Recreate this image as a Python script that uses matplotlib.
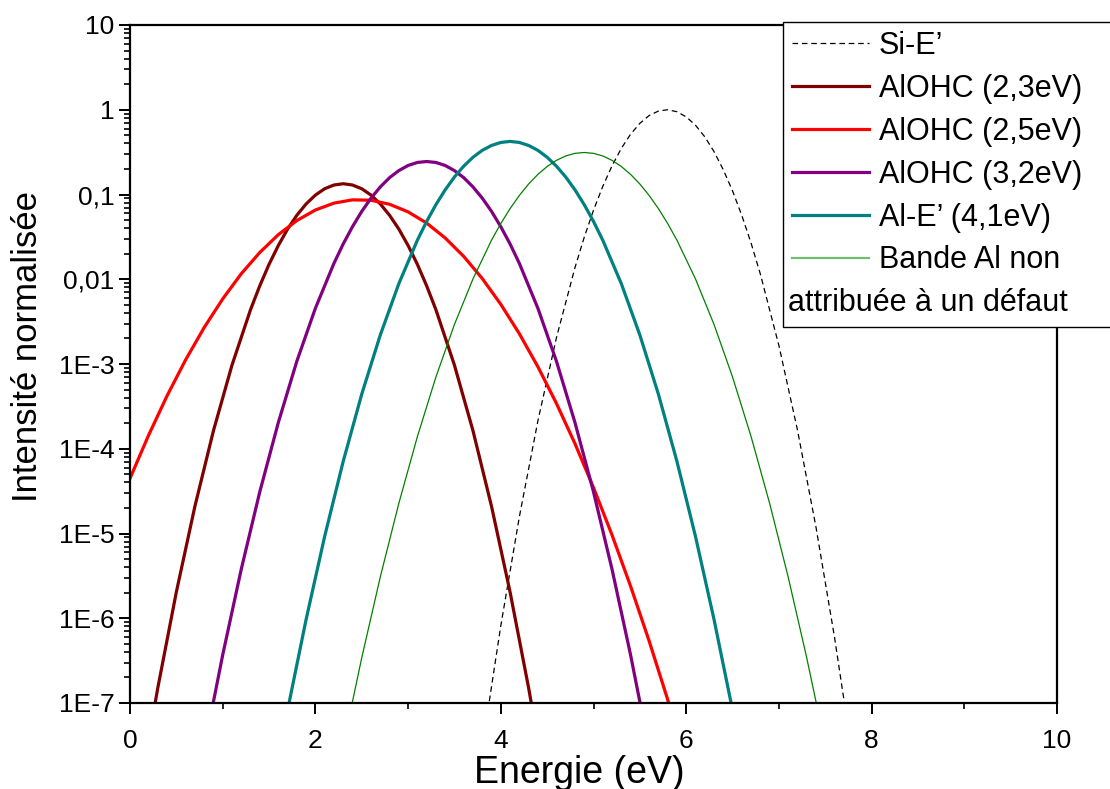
import matplotlib
matplotlib.use("Agg")
import matplotlib.pyplot as plt
from matplotlib.lines import Line2D
from matplotlib.ticker import FixedLocator, FixedFormatter, LogLocator, NullFormatter, MultipleLocator

plt.rcParams['font.family'] = ['Liberation Sans', 'DejaVu Sans']

# ---- data ----
x_si = [3.8, 4.0, 4.2, 4.4, 4.6, 4.8, 4.9, 5.0, 5.1, 5.2, 5.3, 5.4, 5.5, 5.6, 5.7, 5.8, 5.9, 6.0, 6.1, 6.2,
        6.3, 6.4, 6.5, 6.6, 6.7, 6.8, 7.0, 7.2, 7.4, 7.6, 7.8]
y_si = [2.99e-8, 8.17e-7, 1.57e-5, 2.13e-4, 2.04e-3, 1.37e-2, 3.13e-2, 6.52e-2, 0.1245, 0.218, 0.350, 0.514,
        0.692, 0.854, 0.965, 1.000, 0.948, 0.824, 0.657, 0.480, 0.321, 0.196, 0.1102, 5.66e-2, 2.67e-2,
        1.15e-2, 1.65e-3, 1.67e-4, 1.19e-5, 5.96e-7, 2.10e-8]

x_23 = [0.1, 0.3, 0.5, 0.7, 0.9, 1.1, 1.3, 1.4, 1.5, 1.6, 1.7, 1.8, 1.9, 2.0, 2.1, 2.2, 2.3, 2.4, 2.5, 2.6,
        2.7, 2.8, 2.9, 3.0, 3.1, 3.2, 3.3, 3.5, 3.7, 3.9, 4.1, 4.3, 4.5]
y_23 = [8.51e-9, 1.51e-7, 2.04e-6, 2.09e-5, 1.63e-4, 9.68e-4, 4.37e-3, 8.37e-3, 1.50e-2, 2.50e-2, 3.91e-2,
        5.69e-2, 7.74e-2, 9.84e-2, 0.117, 0.1294, 0.134, 0.1294, 0.117, 9.84e-2, 7.74e-2, 5.69e-2, 3.91e-2,
        2.50e-2, 1.50e-2, 8.37e-3, 4.37e-3, 9.68e-4, 1.63e-4, 2.09e-5, 2.04e-6, 1.51e-7, 8.51e-9]

x_25 = [0.0, 0.2, 0.4, 0.6, 0.8, 1.0, 1.2, 1.4, 1.6, 1.8, 2.0, 2.2, 2.4, 2.6, 2.8, 3.0, 3.2, 3.4, 3.6, 3.8,
        4.0, 4.2, 4.4, 4.6, 4.8, 5.0, 5.2, 5.4, 5.6, 5.8, 6.0]
y_25 = [4.47e-5, 1.44e-4, 4.22e-4, 1.12e-3, 2.69e-3, 5.86e-3, 1.16e-2, 2.07e-2, 3.36e-2, 4.93e-2, 6.56e-2,
        7.91e-2, 8.65e-2, 8.55e-2, 7.67e-2, 6.24e-2, 4.60e-2, 3.07e-2, 1.86e-2, 1.02e-2, 5.06e-3, 2.28e-3,
        9.29e-4, 3.43e-4, 1.15e-4, 3.48e-5, 9.59e-6, 2.39e-6, 5.40e-7, 1.10e-7, 2.05e-8]

x_32 = [0.8, 1.0, 1.2, 1.4, 1.6, 1.8, 2.0, 2.2, 2.3, 2.4, 2.5, 2.6, 2.7, 2.8, 2.9, 3.0, 3.1, 3.2, 3.3, 3.4,
        3.5, 3.6, 3.7, 3.8, 3.9, 4.0, 4.1, 4.2, 4.4, 4.6, 4.8, 5.0, 5.2, 5.4, 5.6]
y_32 = [2.89e-8, 3.69e-7, 3.78e-6, 3.10e-5, 2.04e-4, 1.08e-3, 4.55e-3, 1.54e-2, 2.61e-2, 4.17e-2, 6.32e-2,
        9.06e-2, 0.1228, 0.158, 0.1914, 0.220, 0.2388, 0.245, 0.2388, 0.220, 0.1914, 0.158, 0.1228, 9.06e-2,
        6.32e-2, 4.17e-2, 2.61e-2, 1.54e-2, 4.55e-3, 1.08e-3, 2.04e-4, 3.10e-5, 3.78e-6, 3.69e-7, 2.89e-8]

x_41 = [1.7, 1.9, 2.1, 2.3, 2.5, 2.7, 2.9, 3.1, 3.2, 3.3, 3.4, 3.5, 3.6, 3.7, 3.8, 3.9, 4.0, 4.1, 4.2, 4.3,
        4.4, 4.5, 4.6, 4.7, 4.8, 4.9, 5.0, 5.1, 5.3, 5.5, 5.7, 5.9, 6.1, 6.3, 6.5]
y_41 = [8.24e-8, 9.70e-7, 9.25e-6, 7.10e-5, 4.41e-4, 2.20e-3, 8.87e-3, 2.89e-2, 4.81e-2, 7.59e-2, 0.1135,
        0.161, 0.2162, 0.275, 0.3320, 0.379, 0.4114, 0.423, 0.4114, 0.379, 0.3320, 0.275, 0.2162, 0.161,
        0.1135, 7.59e-2, 4.81e-2, 2.89e-2, 8.87e-3, 2.20e-3, 4.41e-4, 7.10e-5, 9.25e-6, 9.70e-7, 8.24e-8]

x_al = [2.3, 2.5, 2.7, 2.9, 3.1, 3.3, 3.5, 3.7, 3.9, 4.0, 4.1, 4.2, 4.3, 4.4, 4.5, 4.6, 4.7, 4.8, 4.9, 5.0,
        5.1, 5.2, 5.3, 5.4, 5.5, 5.6, 5.7, 5.8, 5.9, 6.1, 6.3, 6.5, 6.7, 6.9, 7.1, 7.3, 7.5]
y_al = [3.16e-8, 3.42e-7, 3.07e-6, 2.27e-5, 1.39e-4, 7.02e-4, 2.93e-3, 1.01e-2, 2.89e-2, 4.545e-2, 6.82e-2,
        9.745e-2, 0.133, 0.1727, 0.214, 0.2528, 0.285, 0.3059, 0.313, 0.3059, 0.285, 0.2528, 0.214, 0.1727,
        0.133, 9.745e-2, 6.82e-2, 4.545e-2, 2.89e-2, 1.01e-2, 2.93e-3, 7.02e-4, 1.39e-4, 2.27e-5, 3.07e-6,
        3.42e-7, 3.16e-8]

labels = ["Si-E\u2019", "AlOHC (2,3eV)", "AlOHC (2,5eV)", "AlOHC (3,2eV)", "Al-E\u2019 (4,1eV)", "Bande Al non"]
label_extra = "attribu\u00e9e \u00e0 un d\u00e9faut"
ytick_vals = [1e-7, 1e-6, 1e-5, 1e-4, 1e-3, 1e-2, 1e-1, 1, 10]
ytick_labels = ["1E-7", "1E-6", "1E-5", "1E-4", "1E-3", "0,01", "0,1", "1", "10"]
xtick_vals = [0, 2, 4, 6, 8, 10]

# ---- figure ----
W, H = 1110, 789
fig = plt.figure(figsize=(W / 100, H / 100), dpi=100)
ax = fig.add_axes([130 / W, 1 - 703 / H, (1057 - 130) / W, (703 - 25) / H])

dash = (0, (4.5, 3))
ax.plot(x_si, y_si, color='black', lw=0.9, ls=dash)
ax.plot(x_23, y_23, color='#800000', lw=2.3)
ax.plot(x_25, y_25, color='#FF0000', lw=2.3)
ax.plot(x_32, y_32, color='#800080', lw=2.3)
ax.plot(x_41, y_41, color='#008080', lw=2.3)
ax.plot(x_al, y_al, color='#008000', lw=0.9)

ax.set_yscale('log')
ax.set_xlim(0, 10)
ax.set_ylim(1e-7, 10)

ax.yaxis.set_major_locator(FixedLocator(ytick_vals))
ax.yaxis.set_major_formatter(FixedFormatter(ytick_labels))
ax.yaxis.set_minor_locator(LogLocator(base=10, subs=[2, 3, 4, 5, 6, 7, 8, 9], numticks=20))
ax.yaxis.set_minor_formatter(NullFormatter())
ax.xaxis.set_major_locator(FixedLocator(xtick_vals))
ax.xaxis.set_minor_locator(MultipleLocator(1))

for s in ax.spines.values():
    s.set_linewidth(1.6)
ax.tick_params(which='major', direction='out', length=8, width=1.4, labelsize=19)
ax.tick_params(axis='y', which='major', pad=3)
ax.tick_params(axis='x', which='major', pad=11)
ax.tick_params(which='minor', direction='out', length=4, width=1.2)

ax.set_xlabel("Energie (eV)", fontsize=27)
ax.set_ylabel("Intensit\u00e9 normalis\u00e9e", fontsize=25)
ax.xaxis.set_label_coords((579 - 130) / 927, (703 - 755) / 678)
ax.yaxis.set_label_coords((44 - 130) / 927, (703 - 347) / 678)

blank = Line2D([], [], color='none', lw=0)
handles = [
    Line2D([], [], color='black', lw=0.9, ls=dash),
    Line2D([], [], color='#800000', lw=2.3),
    Line2D([], [], color='#FF0000', lw=2.3),
    Line2D([], [], color='#800080', lw=2.3),
    Line2D([], [], color='#008080', lw=2.3),
    Line2D([], [], color='#6fbf6f', lw=1.6),
    blank,
]
leg_labels = labels + [" "]
lx0, ly1 = 783 / W, 1 - 22 / H
leg = fig.legend(handles, leg_labels, loc='upper left',
                 bbox_to_anchor=(lx0, 0.55, 1.02 - lx0, ly1 - 0.55), mode='expand',
                 fontsize=22, frameon=True, fancybox=False, framealpha=1, edgecolor='black',
                 handlelength=2.5, handletextpad=0.33, labelspacing=0.42, borderpad=0.3,
                 borderaxespad=0)
leg.get_frame().set_linewidth(1.0)

fig.canvas.draw()
tb = leg.get_texts()[-1].get_window_extent()
fb = leg.get_frame().get_window_extent()
fig.text((fb.x0 + 5) / fig.bbox.width, tb.y0 / fig.bbox.height, label_extra,
         fontsize=22, ha='left', va='bottom', zorder=20)

fig.savefig("out.png", dpi=100)
